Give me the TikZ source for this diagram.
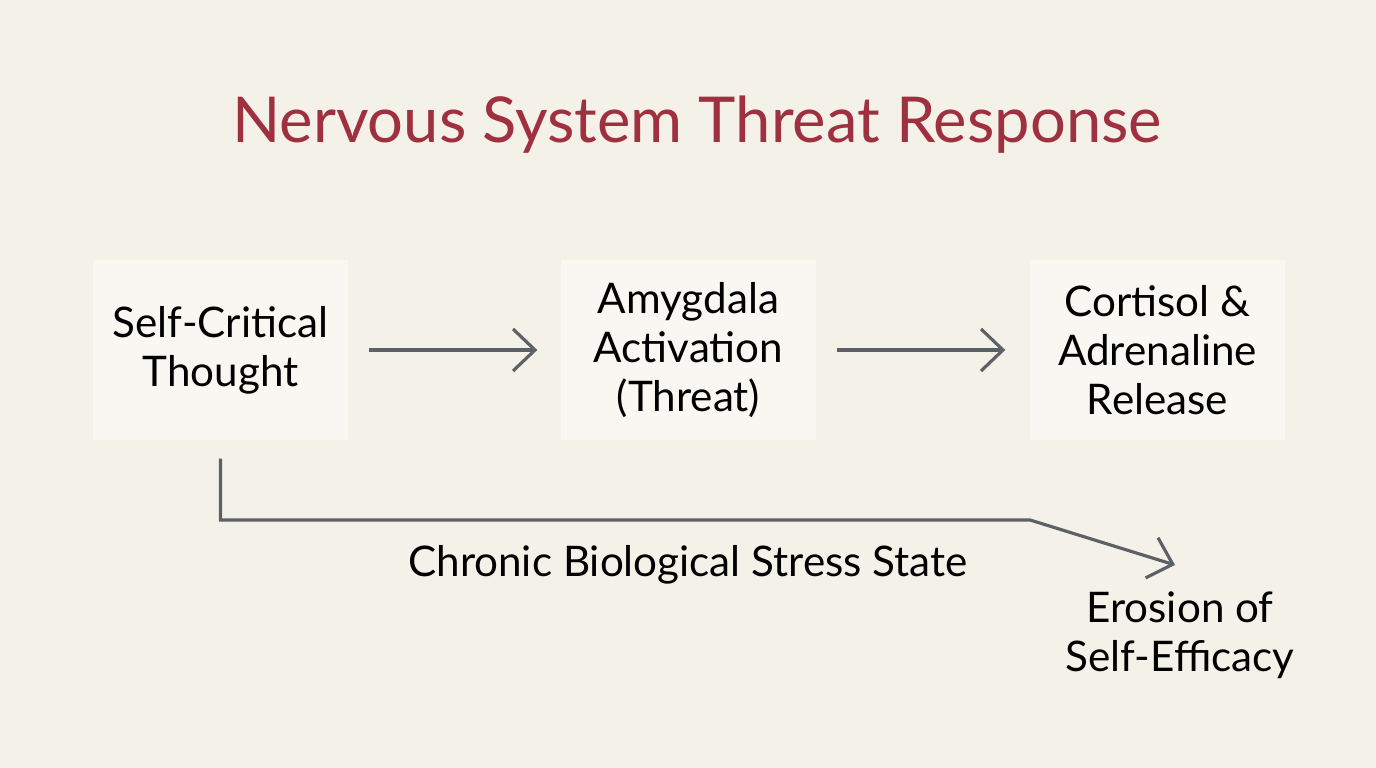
\documentclass[tikz,border=0pt]{standalone}
\usepackage{fontspec}
\setmainfont{Lato}
\usetikzlibrary{arrows.meta,positioning}
\definecolor{bgcol}{HTML}{F3F1E8}
\definecolor{boxcol}{HTML}{F8F7F1}
\definecolor{titlecol}{HTML}{9E3040}
\definecolor{linecol}{HTML}{5C6166}
\begin{document}
\begin{tikzpicture}[
  box/.style={fill=boxcol, align=center, minimum width=2.55cm, minimum height=1.8cm, font=\fontsize{12}{14}\selectfont, inner sep=0pt},
  lbl/.style={align=center, font=\fontsize{12}{14}\selectfont},
  arr/.style={-{Straight Barb[length=2.2mm,width=4.2mm]}, linecol, line width=0.9pt}
]
\fill[bgcol] (0,0) rectangle (13.76,7.68);
\useasboundingbox (0,0) rectangle (13.76,7.68);
\node[font=\fontsize{18}{20}\selectfont, text=titlecol] (title) at (6.97,6.43) {Nervous System Threat Response};
\node[box] (critic) at (2.205,4.18) {Self-Critical\\Thought};
\node[box] (amyg) at (6.885,4.18) {Amygdala\\Activation\\(Threat)};
\node[box] (cort) at (11.575,4.18) {Cortisol \&\\Adrenaline\\Release};
\node[lbl] (erosion) at (11.8,1.33) {Erosion of\\Self-Efficacy};
\node[lbl] (chronic) at (6.88,2.03) {Chronic Biological Stress State};
\coordinate (bend) at (10.3,2.48);
\coordinate (tip) at (11.75,2.03);
\draw[arr] ([xshift=0.2cm]critic.east) -- ([xshift=-0.23cm]amyg.west);
\draw[arr] ([xshift=0.2cm]amyg.east) -- ([xshift=-0.24cm]cort.west);
\draw[arr] ([yshift=-0.18cm]critic.south) |- (bend) -- (tip);
\end{tikzpicture}
\end{document}
